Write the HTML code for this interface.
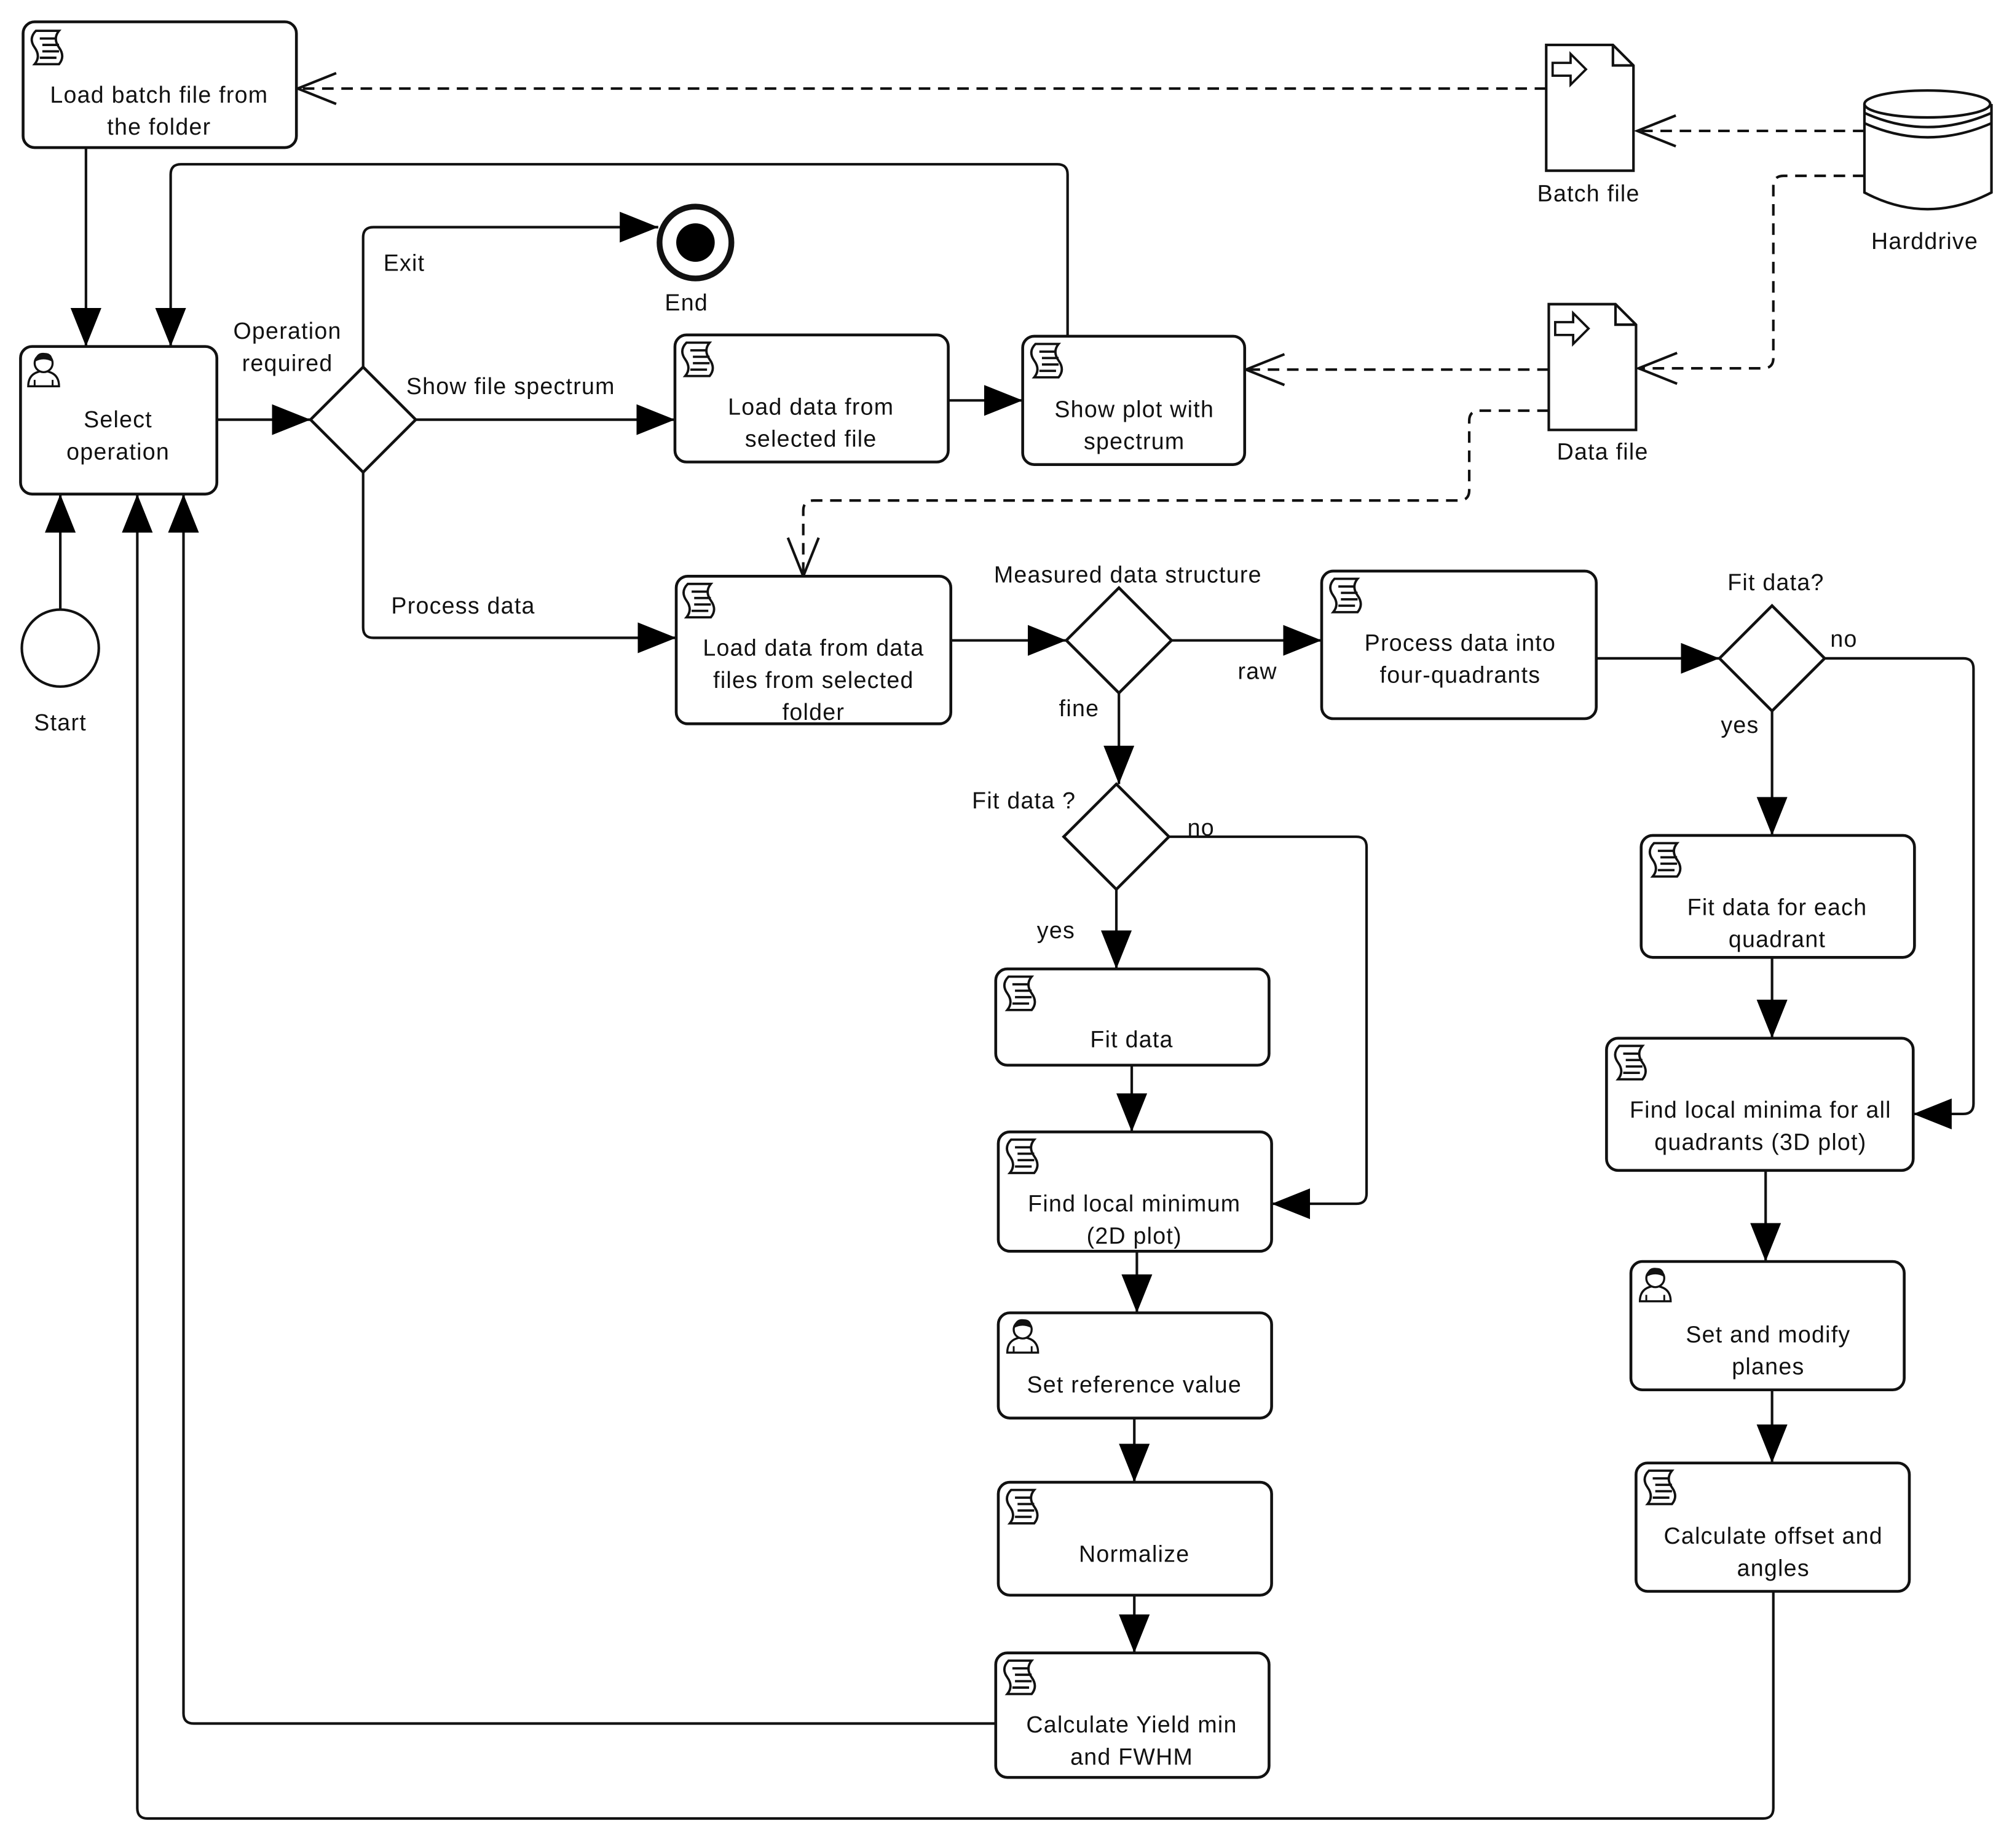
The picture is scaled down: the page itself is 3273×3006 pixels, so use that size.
<!DOCTYPE html>
<html><head><meta charset="utf-8"><style>
html,body{margin:0;padding:0;background:#fff;}
svg{display:block;}
text{font-family:"Liberation Sans",sans-serif;font-size:18px;fill:#111;text-anchor:middle;letter-spacing:0.6px;}
.b{fill:#fff;stroke:#111;stroke-width:2.2;}
.c{fill:none;stroke:#111;stroke-width:2;}
.d{fill:none;stroke:#111;stroke-width:2;stroke-dasharray:9,6;}
</style></head><body>
<svg width="3273" height="3006" viewBox="0 0 1568 1440" preserveAspectRatio="none" xmlns="http://www.w3.org/2000/svg">
<defs>
<marker id="f" markerUnits="userSpaceOnUse" markerWidth="32" markerHeight="26" refX="30" refY="12" orient="auto"><path d="M0,0 L30,12 L0,24 z" fill="#000"/></marker>
<marker id="o" markerUnits="userSpaceOnUse" markerWidth="34" markerHeight="28" refX="31" refY="13" orient="auto"><path d="M1,1 L31,13 L1,25" fill="none" stroke="#111" stroke-width="2"/></marker>
<g id="s"><path d="M4,2 h18 q-5,6 0,13 q5,7 0,13 h-19 q5,-6 0,-13 q-5,-7 1,-13 z" fill="#fff" stroke="#111" stroke-width="1.8"/><path d="M7,8 h13 M9,13 h13 M9,18 h13 M7,23 h13" stroke="#111" stroke-width="1.8"/></g>
<g id="u"><path d="M1,28 q0,-11 12,-12 q12,1 12,12 z" fill="#fff" stroke="#111" stroke-width="1.6"/><circle cx="13" cy="10" r="7" fill="#fff" stroke="#111" stroke-width="1.6"/><path d="M6,9 q1,-8 8,-7 q6,0 6,7 q-7,-4 -14,0z" fill="#111"/><path d="M6,23 v5 M20,23 v5" stroke="#111" stroke-width="1.4"/></g>
<g id="doc"><path d="M0,0 h52 l16,16 v82 h-68 z" fill="#fff" stroke="#111" stroke-width="2"/><path d="M52,0 v16 h16" fill="none" stroke="#111" stroke-width="2"/><path d="M5,14 h14 v-7 l12,12 l-12,12 v-7 h-14 z" fill="#fff" stroke="#111" stroke-width="1.8"/></g>
</defs>

<path class="d" d="M1205,69 H232" marker-end="url(#o)"/>
<path class="d" d="M1453,102 H1276" marker-end="url(#o)"/>
<path class="d" d="M1453,137 H1390 q-8,0 -8,8 V279 q0,8 -8,8 H1277" marker-end="url(#o)"/>
<path class="d" d="M1207,288 H971" marker-end="url(#o)"/>
<path class="d" d="M1207,320 H1153 q-8,0 -8,8 V382 q0,8 -8,8 H634 q-8,0 -8,8 V449" marker-end="url(#o)"/>

<path class="c" d="M67,115 V270" marker-end="url(#f)"/>
<path class="c" d="M832,262 V136 q0,-8 -8,-8 H141 q-8,0 -8,8 V270" marker-end="url(#f)"/>
<path class="c" d="M169,327 H242" marker-end="url(#f)"/>
<path class="c" d="M283,286 V185 q0,-8 8,-8 H513" marker-end="url(#f)"/>
<path class="c" d="M324,327 H526" marker-end="url(#f)"/>
<path class="c" d="M739,312 H797" marker-end="url(#f)"/>
<path class="c" d="M283,368 V489 q0,8 8,8 H527" marker-end="url(#f)"/>
<path class="c" d="M741,499 H831" marker-end="url(#f)"/>
<path class="c" d="M913,499 H1030" marker-end="url(#f)"/>
<path class="c" d="M872,540 V611" marker-end="url(#f)"/>
<path class="c" d="M911,652 H1057 q8,0 8,8 V930 q0,8 -8,8 H991" marker-end="url(#f)"/>
<path class="c" d="M870,693 V755" marker-end="url(#f)"/>
<path class="c" d="M882,830 V882" marker-end="url(#f)"/>
<path class="c" d="M886,975 V1023" marker-end="url(#f)"/>
<path class="c" d="M884,1105 V1155" marker-end="url(#f)"/>
<path class="c" d="M884,1243 V1288" marker-end="url(#f)"/>
<path class="c" d="M776,1343 H151 q-8,0 -8,-8 V385" marker-end="url(#f)"/>
<path class="c" d="M1382,1240 V1409 q0,8 -8,8 H115 q-8,0 -8,-8 V385" marker-end="url(#f)"/>
<path class="c" d="M47,475 V385" marker-end="url(#f)"/>
<path class="c" d="M1244,513 H1340" marker-end="url(#f)"/>
<path class="c" d="M1422,513 H1530 q8,0 8,8 V860 q0,8 -8,8 H1491" marker-end="url(#f)"/>
<path class="c" d="M1381,554 V651" marker-end="url(#f)"/>
<path class="c" d="M1381,746 V809" marker-end="url(#f)"/>
<path class="c" d="M1376,912 V983" marker-end="url(#f)"/>
<path class="c" d="M1381,1083 V1140" marker-end="url(#f)"/>

<rect class="b" x="18" y="17" width="213" height="98" rx="9"/><use href="#s" x="24" y="22"/>
<text x="124" y="80">Load batch file from</text><text x="124" y="105">the folder</text>
<rect class="b" x="16" y="270" width="153" height="115" rx="9"/><use href="#u" x="21" y="273"/>
<text x="92" y="333">Select</text><text x="92" y="358">operation</text>
<rect class="b" x="526" y="261" width="213" height="99" rx="9"/><use href="#s" x="531" y="265"/>
<text x="632" y="323">Load data from</text><text x="632" y="348">selected file</text>
<rect class="b" x="797" y="262" width="173" height="100" rx="9"/><use href="#s" x="803" y="266"/>
<text x="884" y="325">Show plot with</text><text x="884" y="350">spectrum</text>
<rect class="b" x="527" y="449" width="214" height="115" rx="9"/><use href="#s" x="532" y="453"/>
<text x="634" y="511">Load data from data</text><text x="634" y="536">files from selected</text><text x="634" y="561">folder</text>
<rect class="b" x="1030" y="445" width="214" height="115" rx="9"/><use href="#s" x="1036" y="449"/>
<text x="1138" y="507">Process data into</text><text x="1138" y="532">four-quadrants</text>
<rect class="b" x="776" y="755" width="213" height="75" rx="9"/><use href="#s" x="782" y="759"/>
<text x="882" y="816">Fit data</text>
<rect class="b" x="778" y="882" width="213" height="93" rx="9"/><use href="#s" x="784" y="886"/>
<text x="884" y="944">Find local minimum</text><text x="884" y="969">(2D plot)</text>
<rect class="b" x="778" y="1023" width="213" height="82" rx="9"/><use href="#u" x="784" y="1026"/>
<text x="884" y="1085">Set reference value</text>
<rect class="b" x="778" y="1155" width="213" height="88" rx="9"/><use href="#s" x="784" y="1159"/>
<text x="884" y="1217">Normalize</text>
<rect class="b" x="776" y="1288" width="213" height="97" rx="9"/><use href="#s" x="782" y="1292"/>
<text x="882" y="1350">Calculate Yield min</text><text x="882" y="1375">and FWHM</text>
<rect class="b" x="1279" y="651" width="213" height="95" rx="9"/><use href="#s" x="1285" y="655"/>
<text x="1385" y="713">Fit data for each</text><text x="1385" y="738">quadrant</text>
<rect class="b" x="1252" y="809" width="239" height="103" rx="9"/><use href="#s" x="1258" y="813"/>
<text x="1372" y="871">Find local minima for all</text><text x="1372" y="896">quadrants (3D plot)</text>
<rect class="b" x="1271" y="983" width="213" height="100" rx="9"/><use href="#u" x="1277" y="986"/>
<text x="1378" y="1046">Set and modify</text><text x="1378" y="1071">planes</text>
<rect class="b" x="1275" y="1140" width="213" height="100" rx="9"/><use href="#s" x="1281" y="1144"/>
<text x="1382" y="1203">Calculate offset and</text><text x="1382" y="1228">angles</text>

<path class="b" d="M283,286 L324,327 L283,368 L242,327 z"/>
<path class="b" d="M872,458 L913,499 L872,540 L831,499 z"/>
<path class="b" d="M870,611 L911,652 L870,693 L829,652 z"/>
<path class="b" d="M1381,472 L1422,513 L1381,554 L1340,513 z"/>

<circle cx="542" cy="189" r="28" fill="#fff" stroke="#111" stroke-width="4.5"/>
<circle cx="542" cy="189" r="15" fill="#000"/>
<circle cx="47" cy="505" r="30" fill="#fff" stroke="#111" stroke-width="2"/>

<use href="#doc" x="1205" y="35"/>
<use href="#doc" x="1207" y="237"/>
<path d="M1453,81 V150 q49,26 99,0 V81" fill="#fff" stroke="#111" stroke-width="2"/>
<ellipse cx="1502" cy="81" rx="49" ry="10.5" fill="#fff" stroke="#111" stroke-width="2"/>
<path d="M1453,88 q49,22 99,0 M1453,96 q49,22 99,0" fill="none" stroke="#111" stroke-width="2"/>

<text x="1238" y="157">Batch file</text>
<text x="1249" y="358">Data file</text>
<text x="1500" y="194">Harddrive</text>
<text x="535" y="242">End</text>
<text x="47" y="569">Start</text>
<text x="315" y="211">Exit</text>
<text x="224" y="264">Operation</text><text x="224" y="289">required</text>
<text x="398" y="307">Show file spectrum</text>
<text x="361" y="478">Process data</text>
<text x="879" y="454">Measured data structure</text>
<text x="980" y="529">raw</text>
<text x="841" y="558">fine</text>
<text x="798" y="630">Fit data ?</text>
<text x="936" y="651">no</text>
<text x="823" y="731">yes</text>
<text x="1384" y="460">Fit data?</text>
<text x="1437" y="504">no</text>
<text x="1356" y="571">yes</text>
</svg>
</body></html>
